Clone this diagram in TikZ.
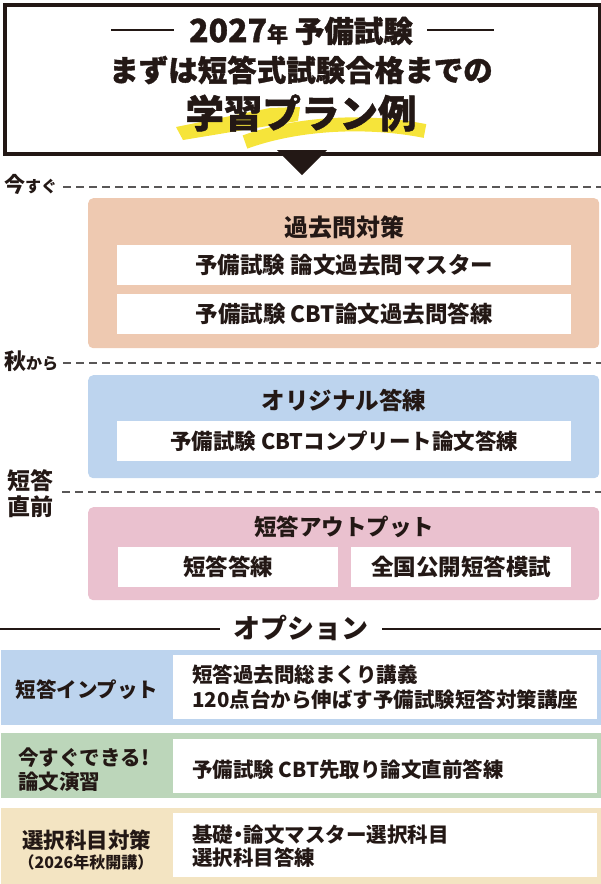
\documentclass[tikz,border=0pt]{standalone}
\usepackage{fontspec}
\setmainfont{Noto Sans CJK JP}
\newfontfamily\heavyfont{Noto Sans CJK JP}[BoldFeatures={FakeBold=1.2}]
\definecolor{ink}{HTML}{231815}
\definecolor{dashgray}{HTML}{595757}
\definecolor{panelorange}{HTML}{EEC9B1}
\definecolor{panelblue}{HTML}{BDD4EE}
\definecolor{panelpink}{HTML}{EAC1CF}
\definecolor{bandgreen}{HTML}{BCD6BA}
\definecolor{bandbeige}{HTML}{F3E4C2}
\definecolor{hiyellow}{HTML}{F6E43A}
\newcommand{\fs}[1]{\fontsize{#1}{#1}\selectfont}
\tikzset{
  txt/.style={text=ink, inner sep=0pt, font=\bfseries},
  heavy/.style={text=ink, inner sep=0pt, font=\heavyfont\bfseries},
  panel/.style={fill=#1, rounded corners=5pt, anchor=north west, inner sep=0pt},
  whitebox/.style={fill=white, anchor=north west, inner sep=0pt},
  band/.style={fill=#1, anchor=north west, inner sep=0pt, minimum width=600pt},
  timeline/.style={draw=dashgray, line width=1.4pt, dash pattern=on 8pt off 5pt},
  rule/.style={draw=ink, line width=2pt},
}
\begin{document}
\begin{tikzpicture}[x=1pt,y=-1pt]
\useasboundingbox (0,0) rectangle (601,884);

% ---------- header ----------
\path[fill=hiyellow] (176,127) -- (270,108) -- (300,107) -- (298,121) -- (183,140) -- cycle;
\draw[hiyellow, line width=14pt] (245,142) .. controls (300,122) and (370,120) .. (425,131);
\node[draw=ink, line width=4pt, anchor=north west, minimum width=595pt, minimum height=148.5pt, inner sep=0pt] (header) at (3,3) {};
\fill[ink] (277,150) coordinate (triL) -- (327,150) coordinate (triR) -- (302,175) coordinate (triT) -- cycle;

\node[heavy] (t1) at (301,31) {\fs{32}2027\fs{21}年\fs{29.5} 予備試験};
\coordinate (d1a) at (111,30); \coordinate (d1b) at (174,30);
\coordinate (d2a) at (427,30); \coordinate (d2b) at (494,30);
\draw[ink, line width=2pt] (d1a) -- (d1b);
\draw[ink, line width=2pt] (d2a) -- (d2b);
\node[heavy] (t2) at (301,70) {\fs{29.5}まずは短答式試験合格までの};
\node[heavy] (t3) at (301,113) {\fs{38.5}学習プラン例};

% ---------- timeline labels ----------
\node[txt, anchor=west] (now) at (4,184) {\fs{21}今\fs{16}すぐ};
\coordinate (nowE) at (601,187);
\draw[timeline] (63,187) -- (nowE);
\node[txt, anchor=west] (aki) at (4,361) {\fs{22}秋\fs{16}から};
\coordinate (akiE) at (601,363);
\draw[timeline] (63,363) -- (akiE);
\node[txt, align=center] (chokuzen) at (30,494) {\fs{23}短答\\[3pt]\fs{23}直前};
\coordinate (chE) at (601,492);
\draw[timeline] (62,492) -- (chE);

% ---------- orange panel ----------
\node[panel=panelorange, minimum width=511pt, minimum height=150pt] (p1) at (88,198) {};
\node[txt] (p1t) at (344,227) {\fs{24}過去問対策};
\node[whitebox, minimum width=454pt, minimum height=40pt] (w1) at (117,245) {};
\node[txt] at (w1.center) {\fs{22.5}予備試験 論文過去問マスター};
\node[whitebox, minimum width=454pt, minimum height=40pt] (w2) at (117,294) {};
\node[txt] at (w2.center) {\fs{22.5}予備試験 CBT論文過去問答練};

% ---------- blue panel ----------
\node[panel=panelblue, minimum width=511pt, minimum height=103pt] (p2) at (88,375) {};
\node[txt] (p2t) at (344,400) {\fs{23.5}オリジナル答練};
\node[whitebox, minimum width=454pt, minimum height=40pt] (w3) at (117,421) {};
\node[txt] at (w3.center) {\fs{21.5}予備試験 CBTコンプリート論文答練};

% ---------- pink panel ----------
\node[panel=panelpink, minimum width=511pt, minimum height=93pt] (p3) at (88,507) {};
\node[txt] (p3t) at (344,527) {\fs{22.5}短答アウトプット};
\node[whitebox, minimum width=220pt, minimum height=40pt] (w4) at (118,547) {};
\node[txt] at (w4.center) {\fs{22.5}短答答練};
\node[whitebox, minimum width=220pt, minimum height=40pt] (w5) at (351,547) {};
\node[txt] at (w5.center) {\fs{22.5}全国公開短答模試};

% ---------- options ----------
\node[txt] (opt) at (301,628) {\fs{27}オプション};
\coordinate (oL) at (0,629); \coordinate (oR) at (601,629);
\draw[rule] (oL) -- (220,629);
\draw[rule] (382,629) -- (oR);

% option 1
\node[band=panelblue, minimum height=75pt] (b1) at (1,650) {};
\node[whitebox, minimum width=424pt, minimum height=64pt] (ow1) at (173,655) {};
\node[txt] (l1) at (87,690) {\fs{20.5}短答インプット};
\node[txt, anchor=west] (c1a) at (192,675) {\fs{20.5}短答過去問総まくり講義};
\node[txt, anchor=west] (c1b) at (192,700) {\fs{20.5}120点台から伸ばす予備試験短答対策講座};

% option 2
\node[band=bandgreen, minimum height=65pt] (b2) at (1,733) {};
\node[whitebox, minimum width=424pt, minimum height=54pt] (ow2) at (173,739) {};
\node[txt, anchor=west] (l2a) at (18,758) {\fs{20.5}今すぐできる!};
\node[txt, anchor=west] (l2b) at (18,782) {\fs{20.5}論文演習};
\node[txt, anchor=west] (c2) at (192,770) {\fs{20.5}予備試験 CBT先取り論文直前答練};

% option 3
\node[band=bandbeige, minimum height=76pt] (b3) at (1,808) {};
\node[whitebox, minimum width=424pt, minimum height=64pt] (ow3) at (173,813) {};
\node[txt] (l3a) at (87,840) {\fs{21.5}選択科目対策};
\node[txt] (l3b) at (86,862) {\fs{16}（2026年秋開講）};
\node[txt, anchor=west] (c3a) at (192,835) {\fs{20.5}基礎\kern-5pt・\kern-5pt論文マスター選択科目};
\node[txt, anchor=west] (c3b) at (192,858) {\fs{20.5}選択科目答練};
\end{tikzpicture}
\end{document}
